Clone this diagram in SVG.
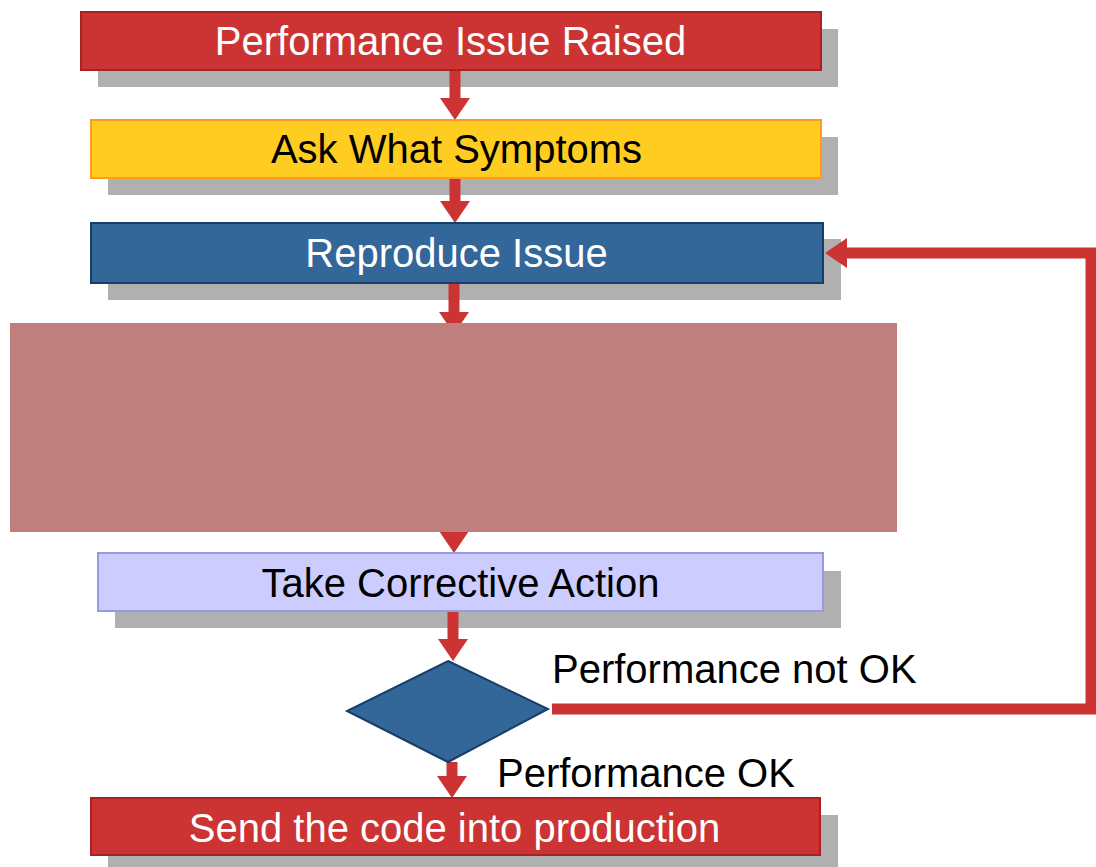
<svg xmlns="http://www.w3.org/2000/svg" width="1096" height="867" viewBox="0 0 1096 867">
<style>
  .shadow { fill: #b0b0b0; }
  .red { fill: #cc3333; stroke: #a82222; stroke-width: 2; }
  .yellow { fill: #ffcc22; stroke: #ff9922; stroke-width: 2; }
  .blue { fill: #336699; stroke: #173d6a; stroke-width: 2; }
  .lav { fill: #ccccff; stroke: #9999dd; stroke-width: 2; }
  .pink { fill: #bf7f7f; }
  .lbl { font-family: "Liberation Sans", Arial, sans-serif; font-size: 40px; }
  .w { fill: #ffffff; text-anchor: middle; }
  .b { fill: #000000; text-anchor: middle; }
  .t { fill: #000000; }
  .conn { fill: none; stroke: #cc3333; stroke-width: 11; }
</style>
<defs>
  <marker id="head" markerUnits="userSpaceOnUse" markerWidth="23" markerHeight="31" refX="0" refY="15" orient="auto" overflow="visible">
    <path d="M0,0 L22,15 L0,30 Z" fill="#cc3333"/>
  </marker>
</defs>
<rect width="1096" height="867" fill="#ffffff"/>

<g id="shadows">
  <rect class="shadow" x="98" y="29" width="740" height="58"/>
  <rect class="shadow" x="108" y="137" width="730" height="58"/>
  <rect class="shadow" x="108" y="239" width="733" height="61"/>
  <rect class="shadow" x="115" y="571" width="726" height="57"/>
  <rect class="shadow" x="108" y="815" width="730" height="60"/>
</g>

<g id="connectors">
  <line class="conn" x1="455" y1="70" x2="455" y2="98" marker-end="url(#head)"/>
  <line class="conn" x1="455" y1="178" x2="455" y2="201" marker-end="url(#head)"/>
  <line class="conn" x1="454" y1="283" x2="454" y2="312" marker-end="url(#head)"/>
  <line class="conn" x1="454" y1="500" x2="454" y2="531" marker-end="url(#head)"/>
  <line class="conn" x1="453" y1="611" x2="453" y2="639" marker-end="url(#head)"/>
  <line class="conn" x1="452" y1="762" x2="452" y2="776" marker-end="url(#head)"/>
  <polyline class="conn" points="552,709 1091,709 1091,253 847,253" marker-end="url(#head)"/>
</g>

<g id="n1">
  <rect class="red" x="81" y="12" width="740" height="58"/>
  <text class="lbl w" x="450.5" y="55">Performance Issue Raised</text>
</g>
<g id="n2">
  <rect class="yellow" x="91" y="120" width="730" height="58"/>
  <text class="lbl b" x="456.5" y="163">Ask What Symptoms</text>
</g>
<g id="n3">
  <rect class="blue" x="91" y="223" width="732" height="60"/>
  <text class="lbl w" x="456.5" y="267">Reproduce Issue</text>
</g>
<g id="n4">
  <rect class="pink" x="10" y="323" width="887" height="209"/>
</g>
<g id="n5">
  <rect class="lav" x="98" y="553" width="725" height="58"/>
  <text class="lbl b" x="460.5" y="597">Take Corrective Action</text>
</g>
<g id="n6">
  <polygon class="blue" points="448,661 548,709 448,762 347,711"/>
</g>
<g id="n7">
  <rect class="red" x="91" y="798" width="729" height="57"/>
  <text class="lbl w" x="454.5" y="842">Send the code into production</text>
</g>
<g id="labels">
  <text class="lbl t" x="552" y="683">Performance not OK</text>
  <text class="lbl t" x="497" y="787">Performance OK</text>
</g>
</svg>
